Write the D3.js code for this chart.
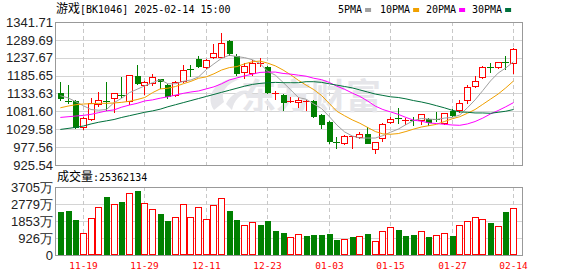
<!DOCTYPE html>
<html>
<head>
<meta charset="utf-8">
<script src="https://cdn.jsdelivr.net/npm/d3@7"></script>
<style>
body { margin: 0; background: #fff; }
svg { display: block; }
</style>
</head>
<body>
<svg id="chart"></svg>
<script>
// trading days shown, 2024-11-14 .. 2025-02-14
const dates = [
    '2024-11-14','2024-11-15','2024-11-18','2024-11-19','2024-11-20','2024-11-21','2024-11-22','2024-11-25','2024-11-26','2024-11-27',
    '2024-11-28','2024-11-29','2024-12-02','2024-12-03','2024-12-04','2024-12-05','2024-12-06','2024-12-09','2024-12-10','2024-12-11',
    '2024-12-12','2024-12-13','2024-12-16','2024-12-17','2024-12-18','2024-12-19','2024-12-20','2024-12-23','2024-12-24','2024-12-25',
    '2024-12-26','2024-12-27','2024-12-30','2024-12-31','2025-01-02','2025-01-03','2025-01-06','2025-01-07','2025-01-08','2025-01-09',
    '2025-01-10','2025-01-13','2025-01-14','2025-01-15','2025-01-16','2025-01-17','2025-01-20','2025-01-21','2025-01-22','2025-01-23',
    '2025-01-24','2025-01-27','2025-02-05','2025-02-06','2025-02-07','2025-02-10','2025-02-11','2025-02-12','2025-02-13','2025-02-14'
];
const opens  = [1136,1113,1112,1037,1058,1103,1112,1120,1130,1113, 1185,1158,1163,1176,1158,1129,1171,1205,1233,1210,
                1239,1241,1286,1243,1197,1194,1219,1210,1134,1129, 1109,1108,1110,1112,1071,1051,993,989,1007,1006,
                1015,972,1003,1050,1062,1054,1057,1056,1059,1058, 1047,1083,1086,1115,1156,1181,1212,1210,1225,1222];
const highs  = [1168,1158,1114,1064,1120,1139,1168,1135,1183,1188, 1217,1171,1190,1177,1161,1170,1217,1216,1243,1233,
                1278,1311,1289,1249,1223,1231,1236,1214,1141,1131, 1124,1123,1114,1115,1074,1054,1006,1013,1010,1023,
                1035,993,1047,1064,1091,1061,1064,1075,1061,1081, 1077,1089,1115,1158,1185,1214,1223,1226,1243,1265];
const lows   = [1115,1106,1032,1029,1056,1097,1086,1081,1123,1103, 1161,1132,1158,1149,1120,1126,1168,1185,1211,1208,
                1236,1239,1246,1187,1178,1187,1213,1134,1118,1086, 1108,1095,1086,1066,1034,989,976,987,976,1003,
                989,961,995,1047,1049,1045,1042,1045,1043,1053, 1044,1068,1081,1105,1153,1178,1197,1209,1204,1192];
const closes = [1121,1108,1037,1061,1107,1114,1109,1134,1128,1187, 1163,1166,1181,1171,1127,1166,1201,1203,1214,1231,
                1251,1280,1251,1194,1214,1223,1222,1137,1136,1109, 1111,1115,1112,1069,1045,996,991,1011,1009,1016,
                990,992,1045,1060,1058,1057,1055,1073,1050,1056, 1076,1070,1105,1152,1170,1212,1209,1224,1223,1262];
// volume in 万
const volumes = [2343,2398,1907,1181,1998,2598,3160,2779,2888,3361, 3487,2816,2489,2234,1871,2053,2779,2053,2598,1944,
                 2725,3088,2398,1907,1635,1798,1635,1853,1326,1181, 963,1126,1035,1090,1090,1144,817,855,998,1035,
                 1144,747,1290,1508,1362,1054,1090,1308,981,1072, 1181,1035,1617,1835,2053,1980,1744,1562,2343,2536];

const ma5  = [1127,1121,1110,1098,1087,1085,1087,1107,1120,1136, 1146,1156,1165,1174,1162,1162,1169,1173,1182,1203,
              1220,1236,1245,1241,1238,1232,1221,1198,1187,1166, 1144,1122,1117,1103,1090,1067,1042,1022,1010,1004,
              1004,1004,1011,1021,1030,1043,1055,1061,1059,1058, 1062,1064,1071,1092,1115,1142,1170,1193,1208,1226];
const ma10 = [1092,1097,1101,1103,1104,1105,1105,1106,1108,1111, 1116,1122,1136,1147,1149,1154,1162,1169,1178,1182,
              1191,1202,1209,1212,1220,1226,1228,1222,1214,1202, 1188,1172,1158,1145,1128,1105,1082,1069,1057,1047,
              1035,1023,1016,1015,1017,1023,1030,1036,1040,1044, 1052,1060,1066,1076,1087,1102,1117,1132,1150,1170];
const ma20 = [1064,1066,1068,1070,1073,1078,1083,1086,1094,1100, 1105,1112,1115,1120,1124,1129,1134,1138,1141,1147,
              1153,1162,1173,1179,1185,1190,1195,1196,1196,1192, 1190,1187,1184,1178,1174,1166,1155,1146,1135,1125,
              1112,1097,1087,1080,1073,1064,1056,1053,1048,1046, 1044,1042,1041,1045,1052,1062,1074,1084,1095,1107];
const ma30 = [1029,1032,1035,1039,1045,1050,1054,1058,1064,1069, 1074,1079,1083,1088,1095,1101,1107,1113,1119,1125,
              1131,1137,1143,1149,1155,1160,1163,1165,1166,1165, 1165,1165,1168,1168,1166,1162,1158,1154,1150,1144,
              1138,1132,1128,1124,1122,1118,1113,1109,1104,1098, 1092,1085,1080,1079,1077,1077,1076,1079,1082,1087];

const priceTicks = [925.54, 977.56, 1029.58, 1081.60, 1133.63, 1185.65, 1237.67, 1289.69, 1341.71];
const volumeTicks = [0, 926, 1853, 2779, 3705];
const dateTicks = ['2024-11-19','2024-11-29','2024-12-11','2024-12-23','2025-01-03','2025-01-15','2025-01-27','2025-02-14'];

const maNames = ['5PMA', '10PMA', '20PMA', '30PMA'];
const maColors = ['#a0a0a0', '#f0a000', '#ff00ff', '#00703c'];

class KChart {

    constructor(config){
        this.config = {
            parent: config.parent,
            width: config.width || 578,
            height: config.height || 276,
            left: 55, right: 522,
            priceTop: 22, priceBottom: 165,
            volTop: 187, volBottom: 255,
        };
        this.init();
    }

    init(){
        let self = this;
        let c = self.config;

        self.svg = d3.select(c.parent)
            .attr('width', c.width)
            .attr('height', c.height)
            .style('font-family', 'Liberation Sans, Arial, sans-serif');

        self.x = d3.scalePoint()
            .domain(dates)
            .range([56, 516.8])
            .padding(0.5);

        self.yPrice = d3.scaleLinear()
            .domain([priceTicks[0], priceTicks[priceTicks.length-1]])
            .range([c.priceBottom, c.priceTop]);

        self.yVol = d3.scaleLinear()
            .domain([0, volumeTicks[volumeTicks.length-1]])
            .range([c.volBottom, c.volTop]);

        self.up = '#ff0000';
        self.down = '#008000';
    }

    render(){
        let self = this;
        self.drawGrid();
        self.drawWatermark();
        self.drawCandles();
        self.drawMA();
        self.drawVolume();
        self.drawFrames();
        self.drawTexts();
    }

    px(d){
        return Math.round(this.x(d));
    }

    drawGrid(){
        let self = this;
        let c = self.config;
        const g = self.svg.append('g').attr('shape-rendering', 'crispEdges');

        g.selectAll('.hp').data(priceTicks).enter().append('line')
            .attr('x1', c.left).attr('x2', c.right)
            .attr('y1', d => Math.round(self.yPrice(d)) + 0.5)
            .attr('y2', d => Math.round(self.yPrice(d)) + 0.5)
            .attr('stroke', '#d4d4d4');

        g.selectAll('.hv').data(volumeTicks).enter().append('line')
            .attr('x1', c.left).attr('x2', c.right)
            .attr('y1', d => Math.round(self.yVol(d)) + 0.5)
            .attr('y2', d => Math.round(self.yVol(d)) + 0.5)
            .attr('stroke', '#d4d4d4');

        [[c.priceTop, c.priceBottom], [c.volTop, c.volBottom]].forEach(r => {
            g.selectAll(null).data(dateTicks).enter().append('line')
                .attr('x1', d => self.px(d) + 0.5).attr('x2', d => self.px(d) + 0.5)
                .attr('y1', r[0]).attr('y2', r[1])
                .attr('stroke', '#c8c8c8')
                .attr('stroke-dasharray', '4,3');
        });
    }

    drawWatermark(){
        let self = this;
        const g = self.svg.append('g').attr('fill', '#e6e6ea');
        g.append('path')
            .attr('d', 'M214,110 C206,98 212,84 230,79 L240,79 C226,84 220,92 224,102 Z M226,104 C232,92 244,88 250,92 C240,94 234,100 232,110 Z');
        g.append('text')
            .attr('x', 241)
            .attr('y', 109)
            .style('font-family', 'Noto Sans CJK SC')
            .style('font-weight', 'bold')
            .style('font-size', '35px')
            .attr('textLength', 140)
            .text('东方财富');
    }

    drawCandles(){
        let self = this;
        const g = self.svg.append('g').attr('shape-rendering', 'crispEdges');

        dates.forEach((d, i) => {
            const cx = self.px(d);
            const isUp = closes[i] >= opens[i];
            const col = isUp ? self.up : self.down;
            const top = Math.round(self.yPrice(Math.max(opens[i], closes[i])));
            const bot = Math.round(self.yPrice(Math.min(opens[i], closes[i])));
            const hi = Math.round(self.yPrice(highs[i]));
            const lo = Math.round(self.yPrice(lows[i]));

            g.append('line')
                .attr('x1', cx + 0.5).attr('x2', cx + 0.5)
                .attr('y1', hi).attr('y2', lo + 1)
                .attr('stroke', col);

            if (bot - top < 2) {
                g.append('rect')
                    .attr('x', cx - 3).attr('y', top)
                    .attr('width', 7).attr('height', Math.max(1, bot - top))
                    .attr('fill', col);
            } else if (isUp) {
                g.append('rect')
                    .attr('x', cx - 2.5).attr('y', top + 0.5)
                    .attr('width', 6).attr('height', bot - top)
                    .attr('fill', '#fff').attr('stroke', col);
            } else {
                g.append('rect')
                    .attr('x', cx - 2).attr('y', top)
                    .attr('width', 6).attr('height', bot - top + 1)
                    .attr('fill', col);
            }
        });
    }

    drawMA(){
        let self = this;
        const line = d3.line()
            .x((v, i) => self.x(dates[i]) + 0.5)
            .y(v => self.yPrice(v));

        [ma5, ma10, ma20, ma30].forEach((s, k) => {
            self.svg.append('path')
                .datum(s)
                .attr('d', line)
                .attr('fill', 'none')
                .attr('stroke', maColors[k])
                .attr('stroke-width', 1);
        });
    }

    drawVolume(){
        let self = this;
        let c = self.config;
        const g = self.svg.append('g').attr('shape-rendering', 'crispEdges');

        g.selectAll('rect').data(volumes).enter().append('rect')
            .each(function(v, i){
                const isUp = i === 0 ? closes[i] >= opens[i] : closes[i] >= closes[i-1];
                const cx = self.px(dates[i]);
                const top = Math.round(self.yVol(v));
                const r = d3.select(this);
                if (isUp) {
                    r.attr('x', cx - 2.5).attr('y', top + 0.5)
                     .attr('width', 6).attr('height', c.volBottom - top - 1)
                     .attr('fill', '#fff').attr('stroke', self.up);
                } else {
                    r.attr('x', cx - 2).attr('y', top)
                     .attr('width', 6).attr('height', c.volBottom - top)
                     .attr('fill', self.down);
                }
            });
    }

    drawFrames(){
        let self = this;
        let c = self.config;
        const g = self.svg.append('g').attr('shape-rendering', 'crispEdges')
            .attr('fill', 'none').attr('stroke', '#999');
        g.append('rect')
            .attr('x', c.left + 0.5).attr('y', c.priceTop + 0.5)
            .attr('width', c.right - c.left).attr('height', c.priceBottom - c.priceTop);
        g.append('rect')
            .attr('x', c.left + 0.5).attr('y', c.volTop + 0.5)
            .attr('width', c.right - c.left).attr('height', c.volBottom - c.volTop);
    }

    drawTexts(){
        let self = this;
        const mono = 'DejaVu Sans Mono, monospace';
        const cjk = 'Noto Sans CJK SC';

        // title
        const t = self.svg.append('text').attr('x', 56).attr('y', 13)
            .style('font-size', '10px').style('font-family', mono).attr('fill', '#000');
        t.append('tspan').style('font-family', cjk).style('font-size', '12px').text('游戏');
        t.append('tspan').text('[BK1046] 2025-02-14 15:00');

        // legend
        const lx = [338, 380, 426, 472];
        maNames.forEach((n, k) => {
            self.svg.append('text')
                .attr('x', lx[k]).attr('y', 13)
                .style('font-family', mono).style('font-size', '10px')
                .attr('fill', '#000')
                .text(n);
            const w = n.length * 6.02;
            self.svg.append('rect')
                .attr('x', lx[k] + w + 3).attr('y', 8)
                .attr('width', 6).attr('height', 4)
                .attr('fill', maColors[k]);
        });

        // price axis
        self.svg.append('g').selectAll('text').data(priceTicks).enter().append('text')
            .attr('x', 53)
            .attr('y', d => self.yPrice(d))
            .attr('dy', '0.36em')
            .attr('text-anchor', 'end')
            .style('font-size', '13px')
            .attr('fill', '#222')
            .text(d => d.toFixed(2));

        // volume title
        const v = self.svg.append('text').attr('x', 57).attr('y', 181)
            .style('font-size', '10px').style('font-family', mono).attr('fill', '#000');
        v.append('tspan').style('font-family', cjk).style('font-size', '12px').text('成交量');
        v.append('tspan').text(':25362134');

        // volume axis
        self.svg.append('g').selectAll('text').data(volumeTicks).enter().append('text')
            .attr('x', 53)
            .attr('y', d => self.yVol(d))
            .attr('dy', '0.36em')
            .attr('text-anchor', 'end')
            .style('font-size', '13px')
            .attr('fill', '#222')
            .text(d => d === 0 ? '0' : d + '万');

        // date axis
        self.svg.append('g').selectAll('text').data(dateTicks).enter().append('text')
            .attr('x', d => self.px(d) + 0.5)
            .attr('y', 269)
            .attr('text-anchor', 'middle')
            .style('font-family', mono)
            .style('font-size', '9.5px')
            .attr('fill', '#ff0000')
            .text(d => d.slice(5));
    }
}

const chart = new KChart({ parent: '#chart', width: 578, height: 276 });
chart.render();
</script>
</body>
</html>
